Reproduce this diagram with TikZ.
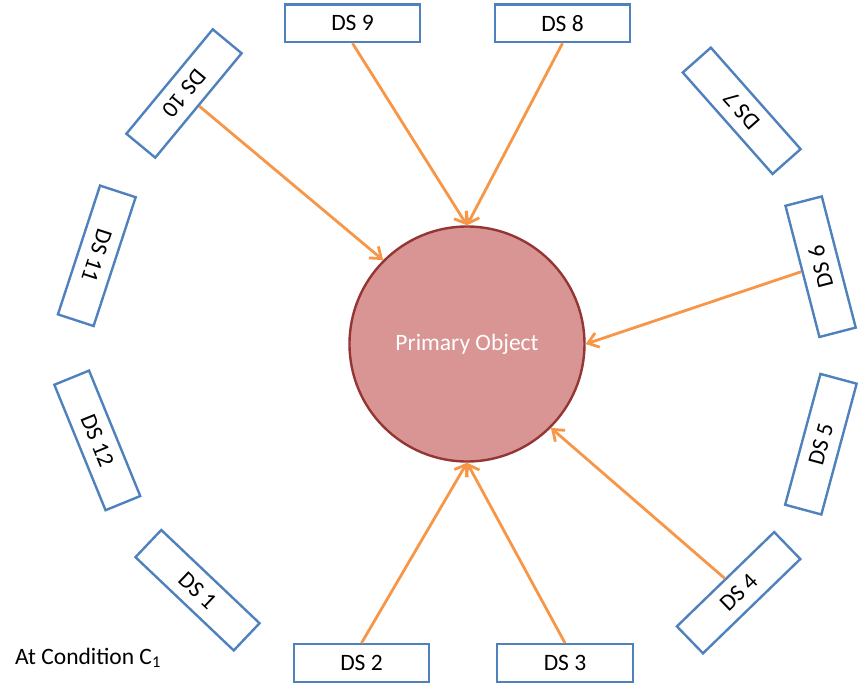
\documentclass[tikz,border=0pt]{standalone}
\usepackage{fontspec}
\setmainfont{Carlito}
\usetikzlibrary{arrows.meta}
\definecolor{boxblue}{HTML}{4F81BD}
\definecolor{objfill}{HTML}{D99594}
\definecolor{objline}{HTML}{943634}
\definecolor{linkorange}{HTML}{F79646}
\tikzset{
  dsbox/.style={draw=boxblue, line width=2.4pt, fill=white, rectangle,
    minimum width=135.5pt, minimum height=37.5pt, inner sep=0pt,
    font=\fontsize{23.5}{26}\selectfont},
  primary/.style={circle, draw=objline, line width=2.4pt, fill=objfill,
    minimum size=235pt, inner sep=0pt, text=white,
    font=\fontsize{23.5}{26}\selectfont},
  feed/.style={draw=linkorange, line width=2.8pt,
    -{Straight Barb[length=10pt,width=15pt]}}
}
\begin{document}
\begin{tikzpicture}[x=1pt,y=1pt]
\useasboundingbox (0,0) rectangle (860,-691);

% central object
\node[primary] (po) at (467,-344) {Primary Object};

% data sources around it
\node[dsbox, rotate=-43.5] (ds1) at (197.5,-590.2) {DS 1};
\node[dsbox] (ds2) at (361.5,-663) {DS 2};
\node[dsbox] (ds3) at (565,-663) {DS 3};
\node[dsbox, rotate=44.1] (ds4) at (738.6,-592.7) {DS 4};
\node[dsbox, rotate=74.9] (ds5) at (820.9,-444.2) {DS 5};
\node[dsbox, rotate=104.5] (ds6) at (820.6,-266.7) {DS 6};
\node[dsbox, rotate=131.5] (ds7) at (741.7,-110.8) {DS 7};
\node[dsbox] (ds8) at (562.5,-23.3) {DS 8};
\node[dsbox] (ds9) at (352.5,-23.3) {DS 9};
\node[dsbox, rotate=230.4] (ds10) at (184,-93.5) {DS 10};
\node[dsbox, rotate=-108.1] (ds11) at (96.8,-255.8) {DS 11};
\node[dsbox, rotate=-67.8] (ds12) at (97.3,-440.4) {DS 12};

% links into the object
\draw[feed] (ds10.north) -- (po.135.7);
\draw[feed] (ds9.south) -- (po.north);
\draw[feed] (ds8.south) -- (po.north);
\draw[feed] (ds6.north) -- (po.east);
\draw[feed] (ds4.north) -- (po.-45.4);
\draw[feed] (ds2.north) -- (po.south);
\draw[feed] (ds3.north) -- (po.south);

% caption
\node[anchor=base west, inner sep=0pt, font=\fontsize{23.5}{26}\selectfont]
  (cond) at (15,-664) {At Condition C\textsubscript{1}};
\end{tikzpicture}
\end{document}
